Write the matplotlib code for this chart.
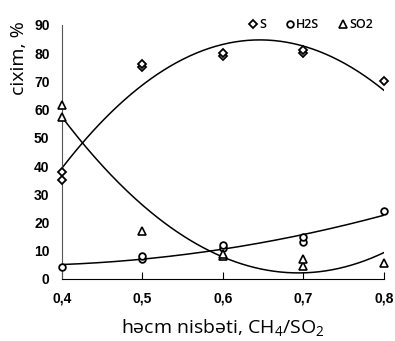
import numpy as np
import matplotlib
matplotlib.use("Agg")
import matplotlib.pyplot as plt

plt.rcParams["mathtext.fontset"] = "custom"
plt.rcParams["mathtext.rm"] = "Open Sans"
plt.rcParams["mathtext.it"] = "Open Sans:italic"
plt.rcParams["mathtext.bf"] = "Open Sans:bold"

# Data
s_x = [0.4, 0.4, 0.5, 0.5, 0.6, 0.6, 0.7, 0.7, 0.8]
s_y = [38, 35, 75, 76, 79, 80, 80, 81, 70]
h2s_x = [0.4, 0.5, 0.5, 0.6, 0.6, 0.7, 0.7, 0.8]
h2s_y = [4.3, 7, 8, 11, 12, 13, 15, 24]
so2_x = [0.4, 0.4, 0.5, 0.6, 0.6, 0.7, 0.7, 0.8]
so2_y = [61.5, 57.5, 17, 8, 9, 4.5, 7, 5.5]

x_ticks = [0.4, 0.5, 0.6, 0.7, 0.8]
x_ticklabels = ["0,4", "0,5", "0,6", "0,7", "0,8"]
y_ticks = list(range(0, 91, 10))

fig = plt.figure(figsize=(3.95, 3.41), dpi=100)
ax = fig.add_axes([0.157, 0.182, 0.815, 0.745])

xx = np.linspace(0.4, 0.8, 200)
for xs, ys in [(s_x, s_y), (h2s_x, h2s_y), (so2_x, so2_y)]:
    c = np.polyfit(xs, ys, 2)
    ax.plot(xx, np.polyval(c, xx), color="black", lw=1.1, zorder=2)

ms = 4.8
ax.plot(s_x, s_y, linestyle="none", marker="D", ms=ms - 0.8, mfc="white", mec="black", mew=1.3, label="S", zorder=3, clip_on=False)
ax.plot(h2s_x, h2s_y, linestyle="none", marker="o", ms=ms, mfc="white", mec="black", mew=1.3, label="H2S", zorder=3, clip_on=False)
ax.plot(so2_x, so2_y, linestyle="none", marker="^", ms=ms + 0.5, mfc="white", mec="black", mew=1.2, label="SO2", zorder=3, clip_on=False)

ax.set_xlim(0.4, 0.8)
ax.set_ylim(0, 90)
ax.set_xticks(x_ticks)
ax.set_xticklabels(x_ticklabels)
ax.set_yticks(y_ticks)

for sp in ["top", "right"]:
    ax.spines[sp].set_visible(False)
ax.spines["left"].set_color("#555555")
ax.spines["bottom"].set_color("black")
ax.tick_params(axis="x", direction="in", length=5, pad=9, labelsize=10)
ax.tick_params(axis="y", length=0, pad=9, labelsize=10)
for lab in ax.get_xticklabels() + ax.get_yticklabels():
    lab.set_fontweight("bold")
    lab.set_family("Liberation Sans")

ax.set_xlabel("həcm nisbəti, CH$_4$/SO$_2$", fontsize=14, family="Open Sans", labelpad=8)
ax.set_ylabel("cixim, %", fontsize=14, family="Open Sans", labelpad=4)
ax.yaxis.set_label_coords(-0.105, 0.87)

leg = ax.legend(loc="upper right", bbox_to_anchor=(1.0, 1.07), ncol=3, frameon=False,
                handlelength=0.6, handletextpad=0.2, columnspacing=1.6,
                prop={"family": "Open Sans", "size": 9, "weight": "semibold"})

fig.savefig("out.png", dpi=100)
